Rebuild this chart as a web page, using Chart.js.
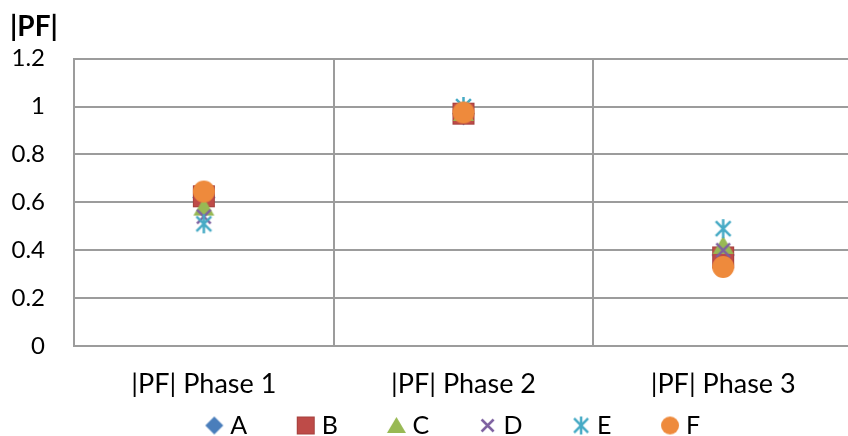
<!DOCTYPE html>
<html>
<head>
<meta charset="utf-8">
<script src="https://cdn.jsdelivr.net/npm/chart.js@4"></script>
<style>
  html, body { margin: 0; padding: 0; background: #ffffff; overflow: hidden; }
  #wrap { position: absolute; left: 0; top: 0; width: 862px; height: 448px; }
</style>
</head>
<body>
<div id="wrap"><canvas id="chart"></canvas></div>
<script>
// Power factor magnitude per phase for the six cases A–F
const categories = ['|PF| Phase 1', '|PF| Phase 2', '|PF| Phase 3'];
const seriesNames = ['A', 'B', 'C', 'D', 'E', 'F'];
const valuesA = [0.62, 0.97, 0.38];
const valuesB = [0.625, 0.97, 0.37];
const valuesC = [0.58, 0.975, 0.42];
const valuesD = [0.54, 0.98, 0.40];
const valuesE = [0.51, 1.0, 0.49];
const valuesF = [0.645, 0.975, 0.33];
const yTickLabels = ['0', '0.2', '0.4', '0.6', '0.8', '1', '1.2'];

const FONT = 'Lato, "Open Sans", sans-serif';
const GRID = '#9c9c9c';

const seriesStyle = {
  A: { kind: 'diamond',  color: '#4A7EBB' },
  B: { kind: 'square',   color: '#BE4B48', edge: '#A5403D' },
  C: { kind: 'triangle', color: '#98B954' },
  D: { kind: 'x',        color: '#7D60A0' },
  E: { kind: 'star',     color: '#46AAC5' },
  F: { kind: 'circle',   color: '#EE8A3C' }
};

// Draws a marker of the given kind into a small canvas; `lead` adds blank space on the left
function makeMarker(st, size, lead) {
  const pad = 2;
  const c = document.createElement('canvas');
  c.width = lead + size + pad * 2;
  c.height = size + pad * 2;
  const g = c.getContext('2d');
  const cx = lead + pad + size / 2, cy = pad + size / 2, r = size / 2;
  g.fillStyle = st.color;
  g.strokeStyle = st.color;
  g.lineCap = 'butt';
  switch (st.kind) {
    case 'diamond':
      g.beginPath();
      g.moveTo(cx, cy - r); g.lineTo(cx + r, cy); g.lineTo(cx, cy + r); g.lineTo(cx - r, cy);
      g.closePath(); g.fill();
      break;
    case 'square':
      g.fillRect(cx - r, cy - r, size, size);
      g.strokeStyle = st.edge;
      g.lineWidth = 1;
      g.strokeRect(cx - r + 0.5, cy - r + 0.5, size - 1, size - 1);
      break;
    case 'triangle':
      g.beginPath();
      g.moveTo(cx, cy - r * 0.9); g.lineTo(cx + r, cy + r * 0.8); g.lineTo(cx - r, cy + r * 0.8);
      g.closePath(); g.fill();
      break;
    case 'x': {
      const s = r * 0.8;
      g.lineWidth = 2.5;
      g.beginPath();
      g.moveTo(cx - s, cy - s); g.lineTo(cx + s, cy + s);
      g.moveTo(cx + s, cy - s); g.lineTo(cx - s, cy + s);
      g.stroke();
      break;
    }
    case 'star': {
      const s = r * 0.78;
      g.lineWidth = 2.5;
      g.beginPath();
      g.moveTo(cx, cy - r); g.lineTo(cx, cy + r);
      g.moveTo(cx - s, cy - s); g.lineTo(cx + s, cy + s);
      g.moveTo(cx + s, cy - s); g.lineTo(cx - s, cy + s);
      g.stroke();
      break;
    }
    case 'circle':
      g.beginPath();
      g.arc(cx, cy, r, 0, Math.PI * 2);
      g.fill();
      break;
  }
  return c;
}

const plotSize = { diamond: 23, square: 22, triangle: 21, x: 17, star: 19, circle: 22 };
const legendSize = { diamond: 18, square: 18, triangle: 19, x: 15, star: 18, circle: 18 };
const LEGEND_LEAD = 39;
const LEGEND_BOX = 46;

const seriesValues = [valuesA, valuesB, valuesC, valuesD, valuesE, valuesF];

const datasets = seriesNames.map((name, i) => {
  const st = seriesStyle[name];
  return {
    label: name,
    data: seriesValues[i],
    showLine: false,
    pointStyle: makeMarker(st, plotSize[st.kind], 0),
    legendMarker: makeMarker(st, legendSize[st.kind], LEGEND_LEAD),
    pointRadius: 8,
    pointHoverRadius: 8,
    backgroundColor: st.color,
    borderColor: st.color,
    // later series sit on top of earlier ones
    order: seriesNames.length - i
  };
});

new Chart(document.getElementById('chart'), {
  type: 'line',
  data: { labels: categories, datasets },
  options: {
    responsive: true,
    maintainAspectRatio: false,
    animation: false,
    events: [],
    layout: { padding: { left: 10, right: 0, top: 0, bottom: 0 } },
    plugins: {
      tooltip: { enabled: false },
      title: {
        display: true,
        text: '|PF|',
        align: 'start',
        color: '#000000',
        font: { family: FONT, size: 28, weight: 'bold' },
        padding: { top: 10, bottom: 15 }
      },
      legend: {
        display: true,
        position: 'bottom',
        labels: {
          usePointStyle: true,
          color: '#000000',
          font: { family: FONT, size: 25 },
          padding: 16,
          pointStyleWidth: LEGEND_BOX,
          boxHeight: 25,
          sort: (a, b) => a.datasetIndex - b.datasetIndex,
          generateLabels: (chart) => chart.data.datasets.map((ds, i) => ({
            text: ds.label,
            datasetIndex: i,
            pointStyle: ds.legendMarker,
            fillStyle: ds.backgroundColor,
            strokeStyle: ds.borderColor,
            lineWidth: 0,
            hidden: false,
            fontColor: '#000000'
          }))
        }
      }
    },
    scales: {
      x: {
        type: 'category',
        offset: true,
        afterFit: (scale) => { scale.height = 51; },
        grid: { offset: true, color: GRID, lineWidth: 2, drawTicks: false },
        border: { color: GRID, width: 2 },
        ticks: { color: '#000000', font: { family: FONT, size: 27 }, padding: 22, maxRotation: 0 }
      },
      y: {
        min: 0,
        max: 1.2,
        afterFit: (scale) => { scale.width = 64; },
        grid: { color: GRID, lineWidth: 2, drawTicks: false },
        border: { color: GRID, width: 2 },
        ticks: {
          stepSize: 0.2,
          color: '#000000',
          font: { family: FONT, size: 24 },
          padding: 29,
          callback: (value, index) => yTickLabels[index]
        }
      }
    }
  }
});
</script>
</body>
</html>
